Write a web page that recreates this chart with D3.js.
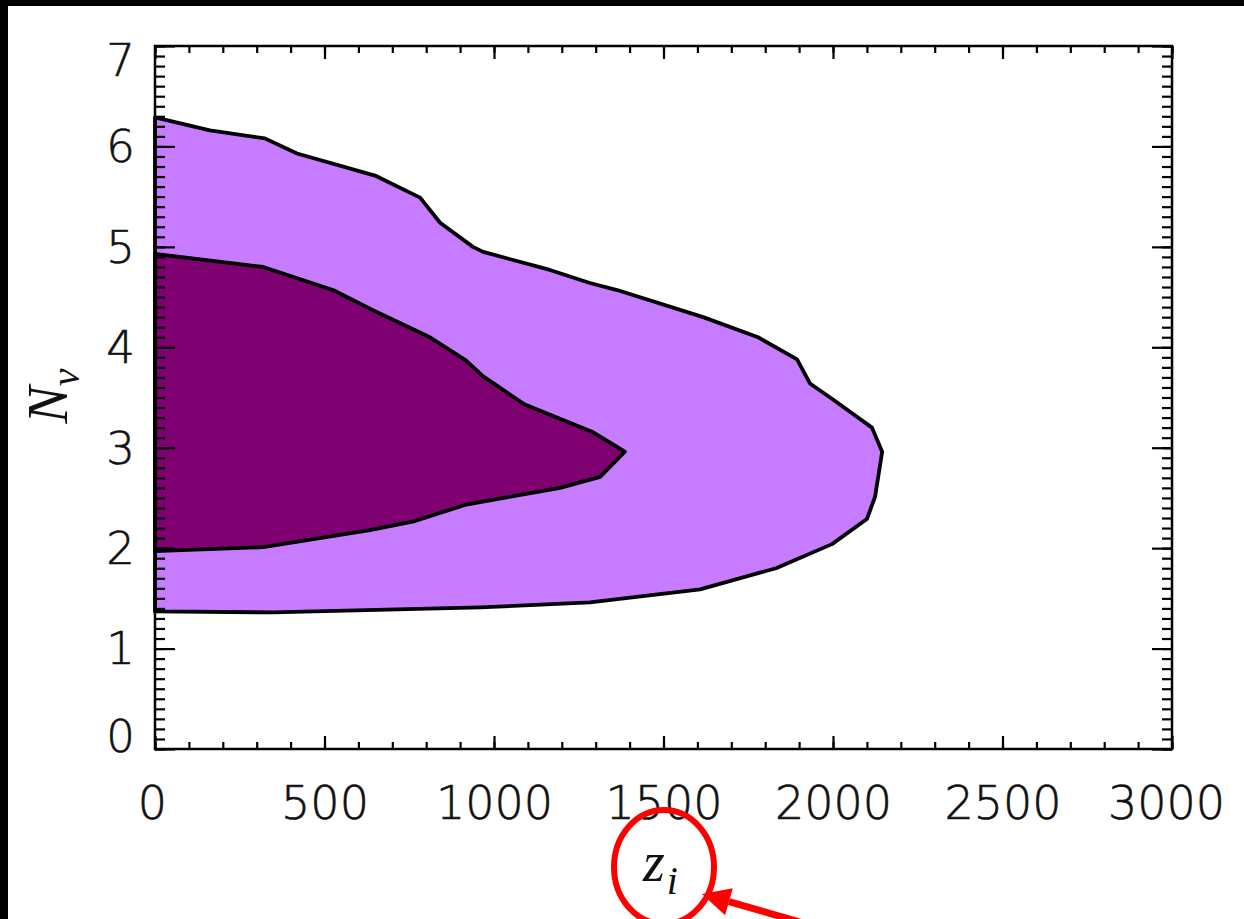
<!DOCTYPE html>
<html>
<head>
<meta charset="utf-8">
<script src="https://cdn.jsdelivr.net/npm/d3@7"></script>
<style>
  html, body { margin: 0; padding: 0; background: #fff; }
  svg { display: block; }
</style>
</head>
<body>
<svg id="chart" width="1244" height="919"></svg>
<script>
// Confidence regions in the (z_i, N_nu) plane
const outerZ = [0, 162, 324, 419, 649, 782, 841, 938, 968, 1165, 1283, 1363, 1617, 1779, 1894, 1932, 2000, 2115, 2145, 2124, 2100, 1997, 1832, 1608, 1283, 959, 348, 0];
const outerN = [6.29, 6.16, 6.08, 5.93, 5.71, 5.49, 5.24, 5.00, 4.95, 4.77, 4.64, 4.57, 4.30, 4.10, 3.88, 3.64, 3.48, 3.20, 2.96, 2.51, 2.29, 2.04, 1.80, 1.59, 1.46, 1.41, 1.36, 1.37];

const innerZ = [0, 319, 525, 643, 811, 917, 968, 1003, 1091, 1289, 1386, 1313, 1195, 979, 914, 767, 634, 319, 0];
const innerN = [4.93, 4.80, 4.57, 4.37, 4.10, 3.87, 3.71, 3.63, 3.43, 3.16, 2.96, 2.71, 2.60, 2.47, 2.43, 2.27, 2.18, 2.01, 1.97];

const zTicks = [0, 500, 1000, 1500, 2000, 2500, 3000];
const nTicks = [0, 1, 2, 3, 4, 5, 6, 7];
const zMinor = d3.range(0, 3001, 100);
const nMinor = d3.range(0, 70.5, 1).map(d => d / 10);

const svg = d3.select("#chart");
const W = 1244, H = 919;
const m = { left: 155, right: 1172, top: 46, bottom: 749 };

const x = d3.scaleLinear().domain([0, 3000]).range([m.left, m.right]);
const y = d3.scaleLinear().domain([0, 7]).range([m.bottom, m.top]);

svg.append("rect").attr("width", W).attr("height", H).attr("fill", "#fff");

// filled regions, outer (lighter) first
const line = d3.line().x(d => x(d[0])).y(d => y(d[1]));
const outerPts = outerZ.map((z, i) => [z, outerN[i]]);
const innerPts = innerZ.map((z, i) => [z, innerN[i]]);

svg.append("path")
  .attr("d", line(outerPts) + "Z")
  .attr("fill", "#c77bff")
  .attr("stroke", "#000")
  .attr("stroke-width", 3.8)
  .attr("stroke-linejoin", "round");

svg.append("path")
  .attr("d", line(innerPts) + "Z")
  .attr("fill", "#7f0070")
  .attr("stroke", "#000")
  .attr("stroke-width", 3.8)
  .attr("stroke-linejoin", "round");

// axes with inward-pointing ticks on all four sides
const tickFont = "'DejaVu Sans', sans-serif";
const xMajorLen = 13, xMinorLen = 7, yMajorLen = 20, yMinorLen = 10;

function styleAxis(g) {
  g.select(".domain").remove();
  g.selectAll(".tick line").attr("stroke", "#000").attr("stroke-width", 2.2);
}

function styleLabels(sel, size) {
  sel.attr("font-family", tickFont).attr("font-weight", 200).attr("font-size", size)
    .attr("fill", "#111").attr("stroke", "#111").attr("stroke-width", 0.6);
}

// bottom
svg.append("g").attr("transform", `translate(0,${m.bottom})`)
  .call(d3.axisBottom(x).tickValues(zMinor).tickSize(-xMinorLen).tickFormat(""))
  .call(styleAxis);
const xb = svg.append("g").attr("transform", `translate(0,${m.bottom})`)
  .call(d3.axisBottom(x).tickValues(zTicks).tickSize(-xMajorLen).tickPadding(37).tickFormat(d3.format("d")))
  .call(styleAxis);
xb.selectAll("text")
  .call(styleLabels, 46)
  .attr("dx", d => d === 3000 ? -6 : (d === 0 ? -3 : 0));

// top
svg.append("g").attr("transform", `translate(0,${m.top})`)
  .call(d3.axisTop(x).tickValues(zMinor).tickSize(-xMinorLen).tickFormat(""))
  .call(styleAxis);
svg.append("g").attr("transform", `translate(0,${m.top})`)
  .call(d3.axisTop(x).tickValues(zTicks).tickSize(-xMajorLen).tickFormat(""))
  .call(styleAxis);

// left
svg.append("g").attr("transform", `translate(${m.left},0)`)
  .call(d3.axisLeft(y).tickValues(nMinor).tickSize(-yMinorLen).tickFormat(""))
  .call(styleAxis);
const yl = svg.append("g").attr("transform", `translate(${m.left},0)`)
  .call(d3.axisLeft(y).tickValues(nTicks).tickSize(-yMajorLen).tickPadding(20).tickFormat(d3.format("d")))
  .call(styleAxis);
yl.selectAll("text")
  .call(styleLabels, 45)
  .attr("dy", d => d === 0 ? "0.05em" : (d === 7 ? "0.65em" : "0.34em"));

// right
svg.append("g").attr("transform", `translate(${m.right},0)`)
  .call(d3.axisRight(y).tickValues(nMinor).tickSize(-yMinorLen).tickFormat(""))
  .call(styleAxis);
svg.append("g").attr("transform", `translate(${m.right},0)`)
  .call(d3.axisRight(y).tickValues(nTicks).tickSize(-yMajorLen).tickFormat(""))
  .call(styleAxis);

// frame
svg.append("rect")
  .attr("x", m.left).attr("y", m.top)
  .attr("width", m.right - m.left).attr("height", m.bottom - m.top)
  .attr("fill", "none").attr("stroke", "#000").attr("stroke-width", 2.5);

// axis titles
const mathFont = "'Liberation Serif', 'DejaVu Serif', serif";
const yTitle = svg.append("text")
  .attr("transform", "translate(67,396) rotate(-90)")
  .attr("text-anchor", "middle")
  .attr("font-family", mathFont).attr("font-style", "italic").attr("font-size", 56)
  .attr("fill", "#111");
yTitle.append("tspan").text("N");
yTitle.append("tspan").attr("font-size", 40).attr("dy", 12).text("ν");

const xTitle = svg.append("text")
  .attr("x", 643).attr("y", 881)
  .attr("font-family", mathFont).attr("font-style", "italic").attr("font-size", 56)
  .attr("fill", "#111");
xTitle.append("tspan").text("z");
xTitle.append("tspan").attr("font-size", 40).attr("dy", 13).attr("dx", 2).text("i");

// red highlight around the x title
svg.append("ellipse")
  .attr("cx", 664).attr("cy", 867).attr("rx", 50).attr("ry", 57)
  .attr("fill", "none").attr("stroke", "#ff0000").attr("stroke-width", 6);

const tip = [702, 894], tail = [800, 922];
const ang = Math.atan2(tail[1] - tip[1], tail[0] - tip[0]);
const headLen = 28, headHalf = 14;
const bx = tip[0] + headLen * Math.cos(ang), by = tip[1] + headLen * Math.sin(ang);
svg.append("line")
  .attr("x1", bx).attr("y1", by).attr("x2", tail[0]).attr("y2", tail[1])
  .attr("stroke", "#ff0000").attr("stroke-width", 7);
svg.append("path")
  .attr("d", `M${tip[0]},${tip[1]} L${bx - headHalf * Math.sin(ang)},${by + headHalf * Math.cos(ang)} L${bx + headHalf * Math.sin(ang)},${by - headHalf * Math.cos(ang)} Z`)
  .attr("fill", "#ff0000");

// dark edges of the figure
svg.append("rect").attr("x", 0).attr("y", 0).attr("width", W).attr("height", 6).attr("fill", "#000");
svg.append("rect").attr("x", 0).attr("y", 0).attr("width", 8).attr("height", H).attr("fill", "#000");
</script>
</body>
</html>
